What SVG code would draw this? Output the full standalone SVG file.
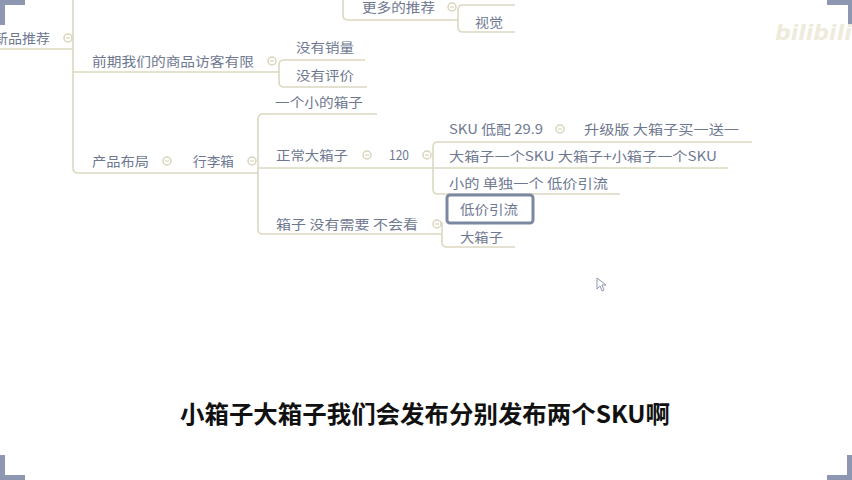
<svg xmlns="http://www.w3.org/2000/svg" width="852" height="480" viewBox="0 0 852 480">
<style>
.t{font-family:"Noto Sans CJK SC","DejaVu Sans",sans-serif;font-size:13px;fill:#6e7891}
.ln{fill:none;stroke:#dcd8c1;stroke-width:1.6}
.cc{fill:#fff;stroke:#d9d5bc;stroke-width:1.5}
.cm{stroke:#d9d5bc;stroke-width:1.2}
.corner{fill:#8d97b1}
</style>
<defs>
<g id="collapse"><circle class="cc" cx="0" cy="0" r="4"/><line class="cm" x1="-2" y1="0" x2="2" y2="0"/></g>
</defs>
<rect width="852" height="480" fill="#fff"/>
<g id="corners">
<rect class="corner" x="0" y="0" width="25" height="5"/><rect class="corner" x="0" y="0" width="5" height="25"/>
<rect class="corner" x="827" y="0" width="25" height="5"/><rect class="corner" x="848" y="0" width="4" height="25"/>
<rect class="corner" x="0" y="475" width="25" height="5"/><rect class="corner" x="0" y="455" width="5" height="25"/>
<rect class="corner" x="827" y="475" width="25" height="5"/><rect class="corner" x="847" y="455" width="5" height="25"/>
</g>
<g id="watermark"><text x="775" y="40" style="font-family:'DejaVu Sans',sans-serif;font-size:22px;font-weight:bold;font-style:italic;fill:#eeebdc">bilibili</text></g>
<g id="connectors">
<path class="ln" d="M0,49 H73"/>
<path class="ln" d="M73,0 V168 Q73,173 78,173 H258"/>
<path class="ln" d="M73,72 H279"/>
<path class="ln" d="M279,72 V65 Q279,60 284,60 H365"/>
<path class="ln" d="M279,72 V82 Q279,87 284,87 H367"/>
<path class="ln" d="M343,0 V15 Q343,20 348,20 H458"/>
<path class="ln" d="M458,20 V10 Q458,5 463,5 H515"/>
<path class="ln" d="M458,20 V27 Q458,32 463,32 H515"/>
<path class="ln" d="M258,173 V119 Q258,114 263,114 H377"/>
<path class="ln" d="M258,168 H433"/>
<path class="ln" d="M258,173 V229 Q258,234 263,234 H442"/>
<path class="ln" d="M433,168 V147 Q433,142 438,142 H752"/>
<path class="ln" d="M433,168 H728"/>
<path class="ln" d="M433,168 V189 Q433,194 438,194 H620"/>
<path class="ln" d="M442,234 V222"/>
<path class="ln" d="M442,234 V242 Q442,247 447,247 H515"/>
</g>
<g id="n-xinpin"><text class="t" x="-6" y="43" textLength="56" lengthAdjust="spacingAndGlyphs">新品推荐</text><use href="#collapse" x="68" y="38"/></g>
<g id="n-qianqi"><text class="t" x="92" y="66" textLength="162" lengthAdjust="spacingAndGlyphs">前期我们的商品访客有限</text><use href="#collapse" x="272" y="61"/></g>
<g id="n-meiyouxiaoliang"><text class="t" x="296" y="52" textLength="58" lengthAdjust="spacingAndGlyphs">没有销量</text></g>
<g id="n-meiyoupingjia"><text class="t" x="296" y="80" textLength="58" lengthAdjust="spacingAndGlyphs">没有评价</text></g>
<g id="n-gengduo"><text class="t" x="362" y="12" textLength="73" lengthAdjust="spacingAndGlyphs">更多的推荐</text><use href="#collapse" x="452" y="7"/></g>
<g id="n-shijue"><text class="t" x="475" y="27" textLength="28" lengthAdjust="spacingAndGlyphs">视觉</text></g>
<g id="n-chanpin"><text class="t" x="92" y="166" textLength="57" lengthAdjust="spacingAndGlyphs">产品布局</text><use href="#collapse" x="167" y="161"/></g>
<g id="n-xinglixiang"><text class="t" x="193" y="166" textLength="41" lengthAdjust="spacingAndGlyphs">行李箱</text><use href="#collapse" x="252" y="161"/></g>
<g id="n-xiaoxiangzi"><text class="t" x="275" y="107" textLength="88" lengthAdjust="spacingAndGlyphs">一个小的箱子</text></g>
<g id="n-zhengchang"><text class="t" x="276" y="160" textLength="72" lengthAdjust="spacingAndGlyphs">正常大箱子</text><use href="#collapse" x="367" y="155"/></g>
<g id="n-120"><text class="t" x="389" y="160" textLength="20" lengthAdjust="spacingAndGlyphs">120</text><use href="#collapse" x="427" y="155"/></g>
<g id="n-sku"><text class="t" x="449" y="134" textLength="94" lengthAdjust="spacingAndGlyphs">SKU 低配  29.9</text><use href="#collapse" x="560" y="129"/></g>
<g id="n-shengji"><text class="t" x="584" y="134" textLength="155" lengthAdjust="spacingAndGlyphs">升级版  大箱子买一送一</text></g>
<g id="n-daxiangzisku"><text class="t" x="449" y="161" textLength="268" lengthAdjust="spacingAndGlyphs">大箱子一个SKU  大箱子+小箱子一个SKU</text></g>
<g id="n-xiaode"><text class="t" x="449" y="188" textLength="159" lengthAdjust="spacingAndGlyphs">小的  单独一个  低价引流</text></g>
<g id="n-xiangzi"><text class="t" x="276" y="229" textLength="142" lengthAdjust="spacingAndGlyphs">箱子  没有需要  不会看</text><use href="#collapse" x="437" y="224"/></g>
<g id="n-dijia"><rect x="447" y="195" width="86" height="28" rx="3" fill="#fff" stroke="#7c87a0" stroke-width="3"/><text class="t" x="460" y="214" textLength="58" lengthAdjust="spacingAndGlyphs">低价引流</text></g>
<g id="n-daxiangzi"><text class="t" x="460" y="242" textLength="43" lengthAdjust="spacingAndGlyphs">大箱子</text></g>
<g id="cursor"><path d="M597,278 L597,289 L600,286 L602,291 L604,290 L602,285 L606,285 Z" fill="#fff" stroke="#8d97b1" stroke-width="1"/></g>
<g id="subtitle"><text x="180" y="423" textLength="490" lengthAdjust="spacingAndGlyphs" style="font-family:'Noto Sans CJK SC','DejaVu Sans',sans-serif;font-size:24px;font-weight:bold;fill:#111">小箱子大箱子我们会发布分别发布两个SKU啊</text></g>
</svg>
